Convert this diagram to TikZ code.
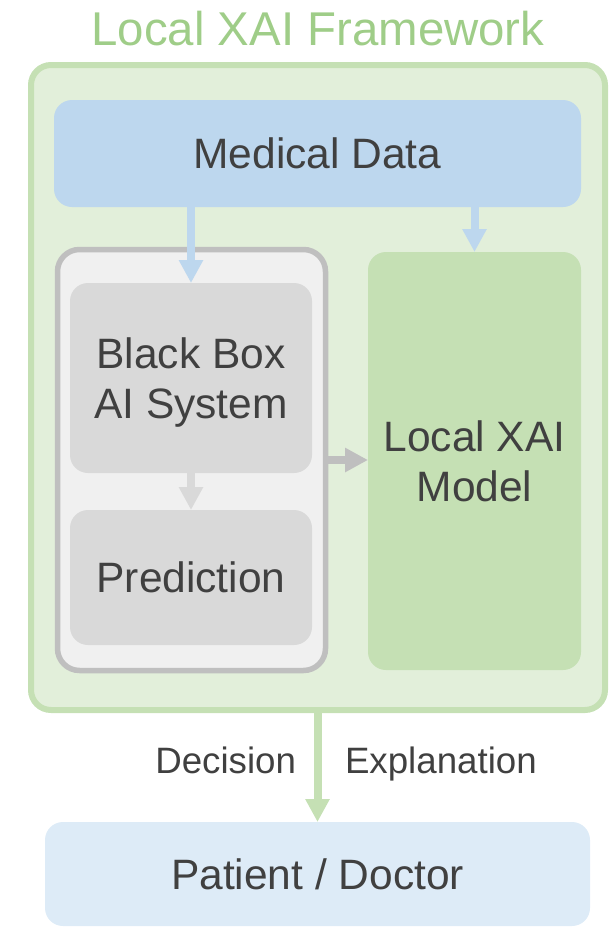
\documentclass[tikz,border=0pt]{standalone}
\usepackage{fontspec}
\setmainfont{Liberation Sans}
\usetikzlibrary{arrows.meta}
\definecolor{txt}{HTML}{404040}
\definecolor{titlegreen}{HTML}{9FCD88}
\definecolor{framefill}{HTML}{E2EFDA}
\definecolor{framedraw}{HTML}{C5E0B4}
\definecolor{bluebox}{HTML}{BDD7EE}
\definecolor{lightblue}{HTML}{DDEBF7}
\definecolor{grayfill}{HTML}{F0F0F0}
\definecolor{graydraw}{HTML}{BFBFBF}
\definecolor{innergray}{HTML}{D9D9D9}
\definecolor{xaigreen}{HTML}{C5E0B4}
\begin{document}
\begin{tikzpicture}[x=1pt,y=-1pt,
  box/.style={rectangle, rounded corners=18pt, draw=none, outer sep=0pt, inner sep=0pt,
    text=txt, font=\fontsize{42.5}{50}\selectfont, align=center},
  lbl/.style={text=txt, font=\fontsize{36.7}{44}\selectfont, inner sep=0pt, outer sep=0pt},
  arr/.style={line width=8pt, -{Triangle[width=23pt,length=23pt]}}]
\useasboundingbox (0,0) rectangle (611,927);

\node[text=titlegreen, font=\fontsize{47.4}{56}\selectfont, anchor=base, inner sep=0pt] (title) at (318,45) {Local XAI Framework};

\node[box, draw=framedraw, line width=6pt, fill=framefill, rounded corners=20pt,
  minimum width=574pt, minimum height=645pt] (frame) at (318,387.5) {};

\node[box, fill=bluebox, minimum width=527pt, minimum height=107pt] (md) at (317.5,153.5) {Medical Data};

\node[box, draw=graydraw, line width=5.5pt, fill=grayfill, rounded corners=22pt,
  minimum width=268pt, minimum height=421pt] (gray) at (191.5,460) {};

\node[box, fill=innergray, minimum width=242pt, minimum height=190pt, text depth=0pt] (bbai) at (191,378) {Black Box\\AI System};
\node[box, fill=innergray, minimum width=242pt, minimum height=135pt] (pred) at (191,577.5) {Prediction};

\node[box, fill=xaigreen, minimum width=213pt, minimum height=418pt] (xai) at (474.5,461) {Local XAI\\Model};

\node[box, fill=lightblue, minimum width=545pt, minimum height=104pt] (pd) at (317.5,874) {Patient / Doctor};

\draw[arr, bluebox] (md.south -| bbai.north) -- (bbai.north);
\draw[arr, bluebox] (md.south -| xai.north) -- (xai.north);
\draw[arr, innergray] (bbai.south) -- (pred.north);
\draw[arr, graydraw] (gray.east) -- (gray.east -| xai.west);
\draw[arr, framedraw] (frame.south -| pd.north) -- (pd.north);

\node[lbl, anchor=base east] (dec) at (296,773) {Decision};
\node[lbl, anchor=base west] (expl) at (345,773) {Explanation};
\end{tikzpicture}
\end{document}
